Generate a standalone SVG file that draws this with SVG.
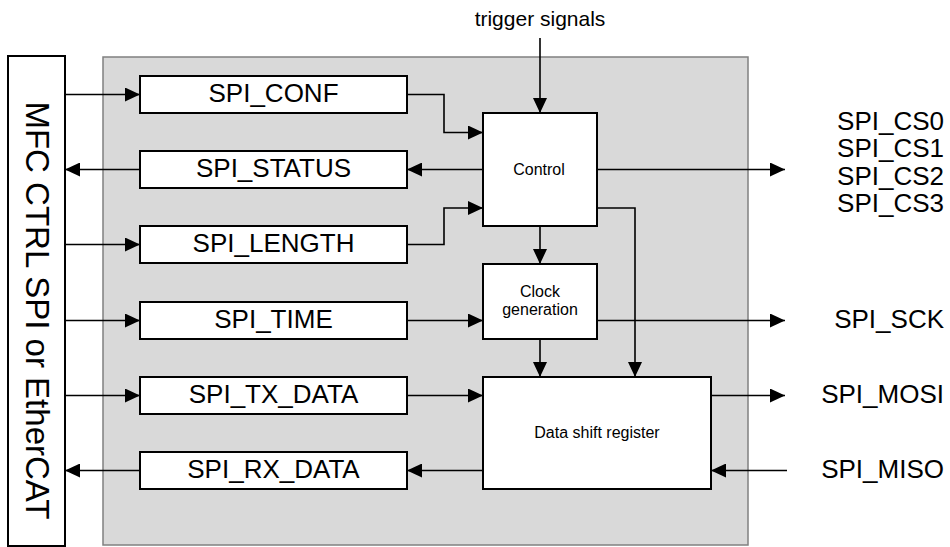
<svg xmlns="http://www.w3.org/2000/svg" width="950" height="547" viewBox="0 0 950 547">
<defs>
<marker id="ah" markerUnits="userSpaceOnUse" markerWidth="16" markerHeight="14" refX="15" refY="7" orient="auto">
<path d="M0,0 L15,7 L0,14 z" fill="#000"/>
</marker>
<style>
.box{fill:#fff;stroke:#000;stroke-width:2}
.reg{font-family:"Liberation Sans",Arial,sans-serif;font-size:26px;fill:#000;text-anchor:middle}
.sm{font-family:"Liberation Sans",Arial,sans-serif;font-size:16px;fill:#000;text-anchor:middle}
.out{font-family:"Liberation Sans",Arial,sans-serif;font-size:26px;fill:#000;text-anchor:end}
.ln{fill:none;stroke:#000;stroke-width:1.6}
.arr{fill:none;stroke:#000;stroke-width:1.6;marker-end:url(#ah)}
</style>
</defs>
<rect width="950" height="547" fill="#fff"/>
<g id="panel"><rect x="103" y="57" width="645" height="488" fill="#d9d9d9" stroke="#808080" stroke-width="1.5"/></g>
<g id="mfc"><rect class="box" x="8" y="56" width="57" height="490"/>
<text transform="translate(26,310.5) rotate(90)" font-family="'Liberation Sans',Arial,sans-serif" font-size="33" text-anchor="middle">MFC CTRL SPI or EtherCAT</text></g>
<g id="spi_conf"><rect class="box" x="140" y="76" width="267" height="37"/><text class="reg" x="273.5" y="101.5">SPI_CONF</text></g>
<g id="spi_status"><rect class="box" x="140" y="151" width="267" height="37"/><text class="reg" x="273.5" y="176.5">SPI_STATUS</text></g>
<g id="spi_length"><rect class="box" x="140" y="226" width="267" height="37"/><text class="reg" x="273.5" y="251.5">SPI_LENGTH</text></g>
<g id="spi_time"><rect class="box" x="140" y="302" width="267" height="37"/><text class="reg" x="273.5" y="327.5">SPI_TIME</text></g>
<g id="spi_tx"><rect class="box" x="140" y="377" width="267" height="37"/><text class="reg" x="273.5" y="402.5">SPI_TX_DATA</text></g>
<g id="spi_rx"><rect class="box" x="140" y="452" width="267" height="37"/><text class="reg" x="273.5" y="477.5">SPI_RX_DATA</text></g>
<g id="control"><rect class="box" x="483" y="113" width="114" height="113"/><text class="sm" x="539" y="175">Control</text></g>
<g id="clock"><rect class="box" x="483" y="264" width="114" height="75"/><text class="sm" x="540" y="296.5">Clock</text><text class="sm" x="540" y="315">generation</text></g>
<g id="dsr"><rect class="box" x="483" y="377" width="228" height="112"/><text class="sm" x="597" y="438">Data shift register</text></g>
<g id="labels">
<text x="540" y="26" font-family="'Liberation Sans',Arial,sans-serif" font-size="21" text-anchor="middle">trigger signals</text>
<text class="out" x="944" y="130">SPI_CS0</text>
<text class="out" x="944" y="157.3">SPI_CS1</text>
<text class="out" x="944" y="184.7">SPI_CS2</text>
<text class="out" x="944" y="212">SPI_CS3</text>
<text class="out" x="944" y="328">SPI_SCK</text>
<text class="out" x="944" y="403">SPI_MOSI</text>
<text class="out" x="944" y="478">SPI_MISO</text>
</g>
<g id="connectors">
<path class="arr" d="M65,94.5 H140"/>
<path class="arr" d="M140,169.5 H65"/>
<path class="arr" d="M65,244.5 H140"/>
<path class="arr" d="M65,320.5 H140"/>
<path class="arr" d="M65,395.5 H140"/>
<path class="arr" d="M140,470.5 H65"/>
<path class="arr" d="M407,94.5 H444 V132.5 H483"/>
<path class="arr" d="M483,169.5 H407"/>
<path class="arr" d="M407,244.5 H444 V208 H483"/>
<path class="arr" d="M407,320.5 H483"/>
<path class="arr" d="M407,395.5 H483"/>
<path class="arr" d="M483,470.5 H407"/>
<path class="arr" d="M540,38 V113"/>
<path class="arr" d="M597,169.5 H785"/>
<path class="arr" d="M597,208 H635 V377"/>
<path class="arr" d="M540,226 V264"/>
<path class="arr" d="M597,320.5 H785"/>
<path class="arr" d="M540,339 V377"/>
<path class="arr" d="M711,395.5 H785"/>
<path class="arr" d="M787,470.5 H711"/>
</g>
</svg>
